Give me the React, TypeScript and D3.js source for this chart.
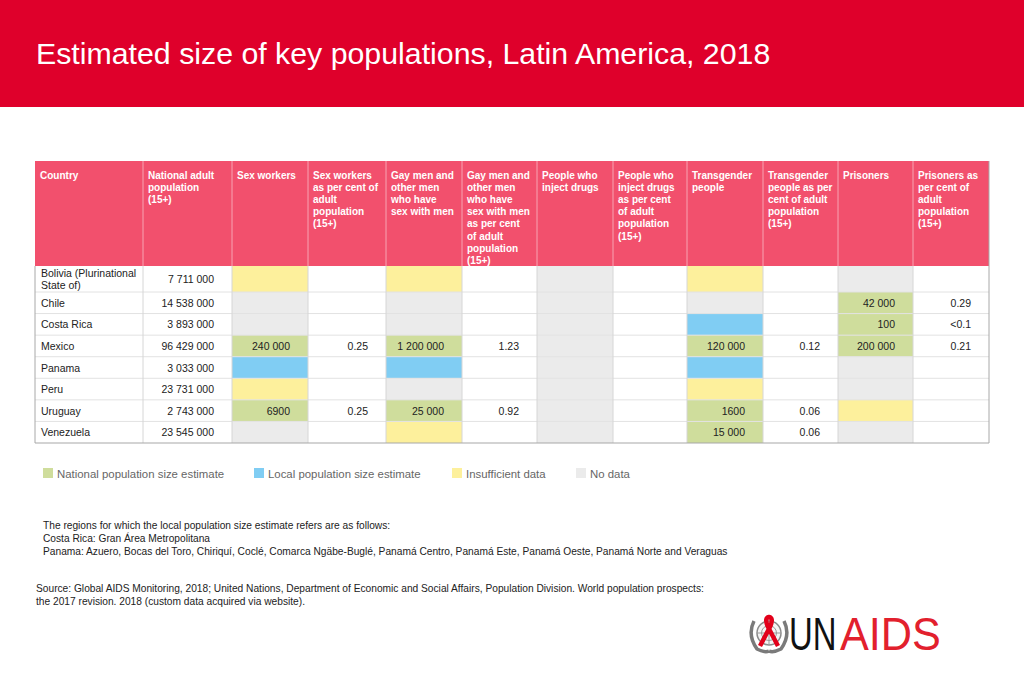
import React from "react";
import * as d3 from "d3";

const title = "Estimated size of key populations, Latin America, 2018";

const headers = [
  ["Country"],
  ["National adult", "population", "(15+)"],
  ["Sex workers"],
  ["Sex workers", "as per cent of", "adult", "population", "(15+)"],
  ["Gay men and", "other men", "who have", "sex with men"],
  ["Gay men and", "other men", "who have", "sex with men", "as per cent", "of adult", "population", "(15+)"],
  ["People who", "inject drugs"],
  ["People who", "inject drugs", "as per cent", "of adult", "population", "(15+)"],
  ["Transgender", "people"],
  ["Transgender", "people as per", "cent of adult", "population", "(15+)"],
  ["Prisoners"],
  ["Prisoners as", "per cent of", "adult", "population", "(15+)"],
];

const countries = [
  ["Bolivia (Plurinational", "State of)"],
  ["Chile"],
  ["Costa Rica"],
  ["Mexico"],
  ["Panama"],
  ["Peru"],
  ["Uruguay"],
  ["Venezuela"],
];

const adultPopulation = [7711000, 14538000, 3893000, 96429000, 3033000, 23731000, 2743000, 23545000];

// status codes: N national, L local, I insufficient, X no data, "" none
const sexWorkers = [null, null, null, 240000, null, null, 6900, null];
const sexWorkersStatus = ["I", "X", "X", "N", "L", "I", "N", "X"];
const sexWorkersPct = ["", "", "", "0.25", "", "", "0.25", ""];

const msm = [null, null, null, 1200000, null, null, 25000, null];
const msmStatus = ["I", "X", "X", "N", "L", "X", "N", "I"];
const msmPct = ["", "", "", "1.23", "", "", "0.92", ""];

const pwid = [null, null, null, null, null, null, null, null];
const pwidStatus = ["X", "X", "X", "X", "X", "X", "X", "X"];
const pwidPct = ["", "", "", "", "", "", "", ""];

const transgender = [null, null, null, 120000, null, null, 1600, 15000];
const transgenderStatus = ["I", "X", "L", "N", "L", "I", "N", "N"];
const transgenderPct = ["", "", "", "0.12", "", "", "0.06", "0.06"];

const prisoners = [null, 42000, 100, 200000, null, null, null, null];
const prisonersStatus = ["X", "N", "N", "N", "X", "X", "I", "X"];
const prisonersPct = ["", "0.29", "<0.1", "0.21", "", "", "", ""];

const legendKeys = ["N", "L", "I", "X"];
const legendLabels = [
  "National population size estimate",
  "Local population size estimate",
  "Insufficient data",
  "No data",
];

const footnotes = [
  "The regions for which the local population size estimate refers are as follows:",
  "Costa Rica: Gran \u00c1rea Metropolitana",
  "Panama: Azuero, Bocas del Toro, Chiriqu\u00ed, Cocl\u00e9, Comarca Ng\u00e4be-Bugl\u00e9, Panam\u00e1 Centro, Panam\u00e1 Este, Panam\u00e1 Oeste, Panam\u00e1 Norte and Veraguas",
];
const sourceLines = [
  "Source: Global AIDS Monitoring, 2018; United Nations, Department of Economic and Social Affairs, Population Division. World population prospects:",
  "the 2017 revision. 2018 (custom data acquired via website).",
];

// ---- layout / styles ----
const W = 1024;
const H = 683;
const FONT = "'Liberation Sans', Arial, Helvetica, sans-serif";
const colEdges = [35, 143, 232, 308, 386, 462, 537, 613, 687, 763, 838, 913, 989];
const headerTop = 161;
const headerBottom = 266;
const firstRowH = 26;
const tableBottom = 443;

const statusColor = d3
  .scaleOrdinal<string, string>()
  .domain(["N", "L", "I", "X", ""])
  .range(["#cfdd9c", "#80cdf3", "#fdf09c", "#ebebeb", "#ffffff"]);

const fmt = (v: number | null) => {
  if (v == null) return "";
  if (v < 10000) return String(v);
  return d3.format(",")(v).replace(/,/g, " ");
};

export default function App() {
  const rowTops: number[] = [];
  const otherH = (tableBottom - headerBottom - firstRowH) / (countries.length - 1);
  for (let i = 0; i <= countries.length; i++) {
    rowTops.push(i === 0 ? headerBottom : headerBottom + firstRowH + (i - 1) * otherH);
  }

  type Cell = { text: string; status: string };
  const popColumns: [(number | null)[], string[], string[]][] = [
    [sexWorkers, sexWorkersStatus, sexWorkersPct],
    [msm, msmStatus, msmPct],
    [pwid, pwidStatus, pwidPct],
    [transgender, transgenderStatus, transgenderPct],
    [prisoners, prisonersStatus, prisonersPct],
  ];

  const rows: Cell[][] = countries.map((c, i) => {
    const cells: Cell[] = [
      { text: "", status: "" },
      { text: fmt(adultPopulation[i]), status: "" },
    ];
    popColumns.forEach(([vals, st, pct]) => {
      cells.push({ text: fmt(vals[i]), status: st[i] });
      cells.push({ text: pct[i], status: "" });
    });
    return cells;
  });

  const legendX = [43, 254, 452, 576];

  return (
    <svg
      width={W}
      height={H}
      style={{ position: "absolute", left: 0, top: 0, display: "block", background: "#fff" }}
      fontFamily={FONT}
    >
      {/* banner */}
      <rect x={0} y={0} width={W} height={107} fill="#df002b" />
      <text x={36} y={64} fill="#fff" fontSize={30.3}>
        {title}
      </text>

      {/* header */}
      <rect
        x={colEdges[0]}
        y={headerTop}
        width={colEdges[colEdges.length - 1] - colEdges[0]}
        height={headerBottom - headerTop}
        fill="#f2506d"
      />
      {headers.map((lines, j) => (
        <text key={"h" + j} x={colEdges[j] + 5} y={headerTop + 17.5} fill="#fff" fontSize={10} fontWeight="bold">
          {lines.map((l, k) => (
            <tspan key={k} x={colEdges[j] + 5} dy={k === 0 ? 0 : 12.2}>
              {l}
            </tspan>
          ))}
        </text>
      ))}
      {colEdges.slice(1, -1).map((x, j) => (
        <line key={"hv" + j} x1={x} x2={x} y1={headerTop} y2={headerBottom} stroke="#f7a3b3" strokeWidth={1} />
      ))}

      {/* body cells */}
      {rows.map((cells, i) =>
        cells.map((cell, j) => (
          <rect
            key={`c${i}-${j}`}
            x={colEdges[j]}
            y={rowTops[i]}
            width={colEdges[j + 1] - colEdges[j]}
            height={rowTops[i + 1] - rowTops[i]}
            fill={statusColor(cell.status)}
          />
        ))
      )}
      {rowTops.slice(1, -1).map((y, i) => (
        <line key={"hg" + i} x1={colEdges[0]} x2={colEdges[colEdges.length - 1]} y1={y} y2={y} stroke="#e2e2e2" strokeWidth={1} />
      ))}
      {colEdges.slice(1, -1).map((x, j) => (
        <line key={"vg" + j} x1={x} x2={x} y1={headerBottom} y2={tableBottom} stroke="#d6d6d6" strokeWidth={1} />
      ))}
      <line x1={colEdges[0]} x2={colEdges[0]} y1={headerBottom} y2={tableBottom} stroke="#a8a8a8" />
      <line x1={colEdges[12]} x2={colEdges[12]} y1={headerTop} y2={tableBottom} stroke="#a8a8a8" />
      <line x1={colEdges[0]} x2={colEdges[12]} y1={tableBottom} y2={tableBottom} stroke="#a8a8a8" strokeWidth={1.2} />

      {/* body text */}
      {countries.map((lines, i) => {
        const top = rowTops[i];
        const h = rowTops[i + 1] - top;
        const y0 = top + h / 2 + 4 - ((lines.length - 1) * 12) / 2;
        return (
          <text key={"ct" + i} x={colEdges[0] + 6} y={y0} fontSize={10.5} fill="#222">
            {lines.map((l, k) => (
              <tspan key={k} x={colEdges[0] + 6} dy={k === 0 ? 0 : 12}>
                {l}
              </tspan>
            ))}
          </text>
        );
      })}
      {rows.map((cells, i) =>
        cells.map((cell, j) =>
          cell.text ? (
            <text
              key={`t${i}-${j}`}
              x={colEdges[j + 1] - 18}
              y={(rowTops[i] + rowTops[i + 1]) / 2 + 4}
              textAnchor="end"
              fontSize={10.5}
              fill="#222"
            >
              {cell.text}
            </text>
          ) : null
        )
      )}

      {/* legend */}
      {legendKeys.map((k, i) => (
        <g key={"lg" + i}>
          <rect x={legendX[i]} y={468} width={10} height={10} fill={statusColor(k)} />
          <text x={legendX[i] + 14} y={477.5} fontSize={11.4} fill="#666">
            {legendLabels[i]}
          </text>
        </g>
      ))}

      {/* footnotes */}
      {footnotes.map((l, i) => (
        <text key={"fn" + i} x={43} y={529 + i * 12.8} fontSize={10.2} fill="#222">
          {l}
        </text>
      ))}
      {sourceLines.map((l, i) => (
        <text key={"sr" + i} x={36} y={592 + i * 13} fontSize={10.2} fill="#222">
          {l}
        </text>
      ))}

      {/* logo */}
      <g transform="translate(769,633)">
        <circle r={12} fill="#f4f4f4" stroke="#8a8a8a" strokeWidth={1.5} />
        <circle r={7.5} fill="none" stroke="#9a9a9a" strokeWidth={1} />
        <line x1={-12} x2={12} y1={0} y2={0} stroke="#9a9a9a" />
        <line x1={0} x2={0} y1={-12} y2={12} stroke="#9a9a9a" />
        <path d="M-15,-12 Q-22,2 -12,16 Q-4,20 0,18 M15,-12 Q22,2 12,16 Q4,20 0,18" fill="none" stroke="#7a7a7a" strokeWidth={3.5} />
        <path
          d="M-9,13 L1,-6 Q5,-15 0,-16 Q-5,-15 -1,-6 L9,13"
          fill="none"
          stroke="#e2001a"
          strokeWidth={4.5}
          strokeLinejoin="round"
        />
      </g>
      <g transform="translate(789,650) scale(0.7,1)">
        <text x={0} y={0} fontSize={47} fill="#111">
          UN
        </text>
      </g>
      <g transform="translate(840,650) scale(0.92,1)">
        <text x={0} y={0} fontSize={47} fill="#e2202d">
          AIDS
        </text>
      </g>
    </svg>
  );
}
